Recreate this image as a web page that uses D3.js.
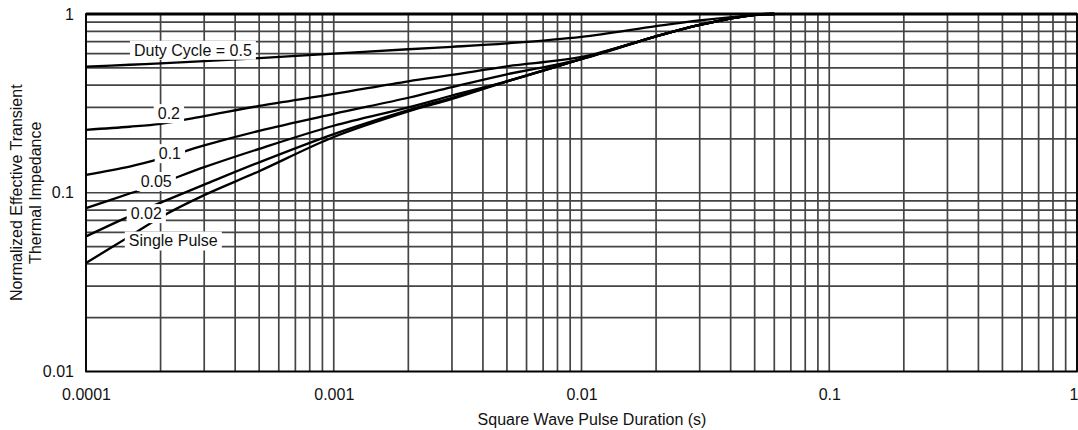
<!DOCTYPE html>
<html>
<head>
<meta charset="utf-8">
<script src="https://cdn.jsdelivr.net/npm/d3@7"></script>
<style>
  body { margin: 0; background: #fff; }
  text { font-family: "Liberation Sans", Arial, sans-serif; fill: #111; }
</style>
</head>
<body>
<div id="chart"></div>
<script>
// Data
const pulseTimes = [1e-4, 1.5e-4, 2e-4, 3e-4, 5e-4, 1e-3, 2e-3, 3e-3, 5e-3, 1e-2, 2e-2, 3e-2, 5e-2, 6e-2];
const duty05 = [0.508, 0.52, 0.53, 0.545, 0.566, 0.60, 0.635, 0.655, 0.685, 0.745, 0.855, 0.92, 0.985, 1.0];
const duty02 = [0.225, 0.234, 0.243, 0.268, 0.306, 0.357, 0.42, 0.456, 0.51, 0.575, 0.75, 0.87, 0.99, 1.0];
const duty01 = [0.126, 0.14, 0.155, 0.184, 0.222, 0.276, 0.34, 0.39, 0.46, 0.56, 0.75, 0.87, 0.99, 1.0];
const duty005 = [0.082, 0.099, 0.113, 0.139, 0.176, 0.237, 0.30, 0.35, 0.42, 0.56, 0.75, 0.87, 0.99, 1.0];
const duty002 = [0.057, 0.074, 0.088, 0.111, 0.148, 0.213, 0.29, 0.34, 0.42, 0.56, 0.75, 0.87, 0.99, 1.0];
const singlePulse = [0.0405, 0.057, 0.073, 0.097, 0.132, 0.205, 0.285, 0.335, 0.42, 0.56, 0.75, 0.87, 0.99, 1.0];

const seriesValues = [duty05, duty02, duty01, duty005, duty002, singlePulse];
const seriesLabels = ['Duty Cycle = 0.5', '0.2', '0.1', '0.05', '0.02', 'Single Pulse'];
// label anchors in data units (pulse time, impedance)
const labelTimes = [2.7e-4, 2.16e-4, 2.18e-4, 1.92e-4, 1.75e-4, 2.25e-4];
const labelLevels = [0.629, 0.278, 0.166, 0.116, 0.0767, 0.0539];

const xTickValues = [0.0001, 0.001, 0.01, 0.1, 1];
const xTickLabels = ['0.0001', '0.001', '0.01', '0.1', '1'];
const yTickValues = [0.01, 0.1, 1];
const yTickLabels = ['0.01', '0.1', '1'];

// Chart dimensions
const width = 1078;
const height = 430;
const margin = { top: 14, right: 1, bottom: 58.5, left: 86 };
const plotW = width - margin.left - margin.right;
const plotH = height - margin.top - margin.bottom;
const fontSize = 16;

const svg = d3.select('#chart')
  .append('svg')
  .attr('width', width)
  .attr('height', height);

const g = svg.append('g')
  .attr('transform', `translate(${margin.left},${margin.top})`);

// Scales
const xScale = d3.scaleLog().domain([1e-4, 1]).range([0, plotW]);
const yScale = d3.scaleLog().domain([0.01, 1]).range([plotH, 0]);

// Grid
g.append('g').selectAll('line')
  .data(xScale.ticks())
  .join('line')
  .attr('x1', d => xScale(d)).attr('x2', d => xScale(d))
  .attr('y1', 0).attr('y2', plotH)
  .attr('stroke', '#444').attr('stroke-width', 1.7);

g.append('g').selectAll('line')
  .data(yScale.ticks())
  .join('line')
  .attr('x1', 0).attr('x2', plotW)
  .attr('y1', d => yScale(d)).attr('y2', d => yScale(d))
  .attr('stroke', '#444').attr('stroke-width', 1.7);

// Curves
const line = d3.line()
  .x((d, i) => xScale(pulseTimes[i]))
  .y(d => yScale(d))
  .curve(d3.curveCatmullRom.alpha(0.5));

g.append('g').selectAll('path')
  .data(seriesValues)
  .join('path')
  .attr('d', d => line(d))
  .attr('fill', 'none')
  .attr('stroke', '#000')
  .attr('stroke-width', 2.3);

// Curve labels on white boxes
const labels = g.append('g').selectAll('g')
  .data(seriesLabels)
  .join('g')
  .attr('transform', (d, i) => `translate(${xScale(labelTimes[i])},${yScale(labelLevels[i])})`);

labels.append('text')
  .attr('text-anchor', 'middle')
  .attr('dy', '0.36em')
  .attr('font-size', fontSize)
  .text(d => d);

labels.each(function () {
  const grp = d3.select(this);
  const bb = grp.select('text').node().getBBox();
  grp.insert('rect', 'text')
    .attr('x', bb.x - 4).attr('y', bb.y - 1)
    .attr('width', bb.width + 8).attr('height', bb.height + 2)
    .attr('fill', '#fff');
});

// Frame
g.append('rect')
  .attr('width', plotW).attr('height', plotH)
  .attr('fill', 'none').attr('stroke', '#000').attr('stroke-width', 1.8);
g.append('line')
  .attr('x1', 0).attr('x2', plotW).attr('y1', 0).attr('y2', 0)
  .attr('stroke', '#000').attr('stroke-width', 2.8);

// Axes (labels only)
const xAxis = g.append('g')
  .attr('transform', `translate(0,${plotH})`)
  .call(d3.axisBottom(xScale)
    .tickValues(xTickValues)
    .tickFormat((d, i) => xTickLabels[i])
    .tickSize(0)
    .tickPadding(17));
xAxis.select('.domain').remove();
xAxis.selectAll('text').attr('font-size', fontSize).attr('fill', '#111')
  .attr('font-family', '"Liberation Sans", Arial, sans-serif');
// keep the last label inside the window
xAxis.selectAll('text').filter(d => d === 1).attr('text-anchor', 'end').attr('dx', 1);

const yAxis = g.append('g')
  .call(d3.axisLeft(yScale)
    .tickValues(yTickValues)
    .tickFormat((d, i) => yTickLabels[i])
    .tickSize(0)
    .tickPadding(12));
yAxis.select('.domain').remove();
yAxis.selectAll('text').attr('font-size', fontSize).attr('fill', '#111')
  .attr('font-family', '"Liberation Sans", Arial, sans-serif');

// Axis titles
svg.append('text')
  .attr('x', 592).attr('y', 425)
  .attr('text-anchor', 'middle')
  .attr('font-size', fontSize)
  .text('Square Wave Pulse Duration (s)');

const yTitle = svg.append('text')
  .attr('transform', `translate(0,${margin.top + plotH / 2}) rotate(-90)`)
  .attr('text-anchor', 'middle')
  .attr('font-size', fontSize);
yTitle.append('tspan').attr('x', 0).attr('y', 22).text('Normalized Effective Transient');
yTitle.append('tspan').attr('x', 0).attr('y', 41).text('Thermal Impedance');
</script>
</body>
</html>
